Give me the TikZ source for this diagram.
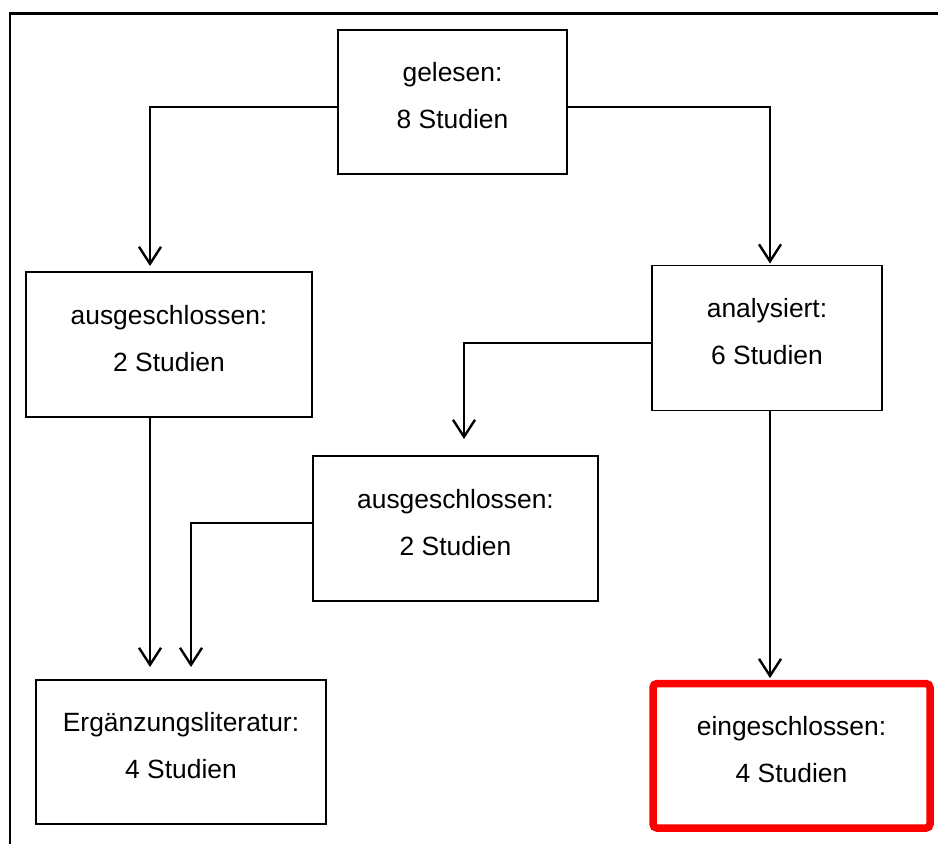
\documentclass[tikz,border=0pt]{standalone}
\usepackage{fontspec}
\setmainfont{Liberation Sans}
\usetikzlibrary{arrows.meta}
\tikzset{
    box/.style={draw, line width=0.8pt, inner sep=0pt, outer sep=0pt},
    redbox/.style={draw=red, line width=3.75pt, rounded corners=2pt, inner sep=0pt, outer sep=0pt},
    lbl/.style={align=center, inner sep=0pt, font=\fontsize{13.2}{23.5}\selectfont},
    arr/.style={line width=1.2pt, -{Straight Barb[length=8.5pt,width=11pt]}},
}
\begin{document}
\begin{tikzpicture}[x=0.5pt,y=-0.5pt]
    \useasboundingbox (0,0) rectangle (938,843);
    \draw[line width=1.4pt] (10,900) -- (10,13.3) -- (1000,13.3);
    \node[box, minimum width=114.5pt, minimum height=72pt] (gel) at (452.5,102) {};
    \node[box, minimum width=143pt, minimum height=72.5pt] (ex1) at (169,344.5) {};
    \node[box, minimum width=115pt, minimum height=72.5pt] (ana) at (767,338) {};
    \node[box, minimum width=142.5pt, minimum height=72.5pt] (ex2) at (455.5,528.5) {};
    \node[box, minimum width=145pt, minimum height=72pt] (erg) at (181,752) {};
    \node[redbox, minimum width=138.5pt, minimum height=72.25pt] (ein) at (791.5,755.8) {};
    \node[lbl] (gel-t) at ([yshift=3pt]gel.center) {gelesen:\\8 Studien};
    \node[lbl] (ex1-t) at ([yshift=3pt]ex1.center) {ausgeschlossen:\\2 Studien};
    \node[lbl] (ana-t) at ([yshift=3pt]ana.center) {analysiert:\\6 Studien};
    \node[lbl] (ex2-t) at ([yshift=3pt]ex2.center) {ausgeschlossen:\\2 Studien};
    \node[lbl] (erg-t) at ([yshift=3pt]erg.center) {Ergänzungsliteratur:\\4 Studien};
    \node[lbl] (ein-t) at ([yshift=3pt]ein.center) {eingeschlossen:\\4 Studien};
    \draw[arr, shorten >=3pt] ([yshift=-2.5pt]gel.west) -| ([xshift=-9.5pt]ex1.north);
    \draw[arr, shorten >=1pt] ([yshift=-2.5pt]gel.east) -| ([xshift=1.5pt]ana.north);
    \draw[arr, shorten >=8.5pt] ([yshift=-2.5pt]ana.west) -| ([xshift=4.25pt]ex2.north);
    \draw[arr, shorten >=6.5pt] ([xshift=-9.5pt]ex1.south) -- ([xshift=-9.5pt]ex1.south |- erg.north);
    \draw[arr, shorten >=6.5pt] ([yshift=2.75pt]ex2.west) -| ([xshift=5pt]erg.north);
    \draw[arr, shorten >=2.75pt] ([xshift=1.5pt]ana.south) -- ([xshift=1.5pt]ana.south |- ein.north);
\end{tikzpicture}
\end{document}
